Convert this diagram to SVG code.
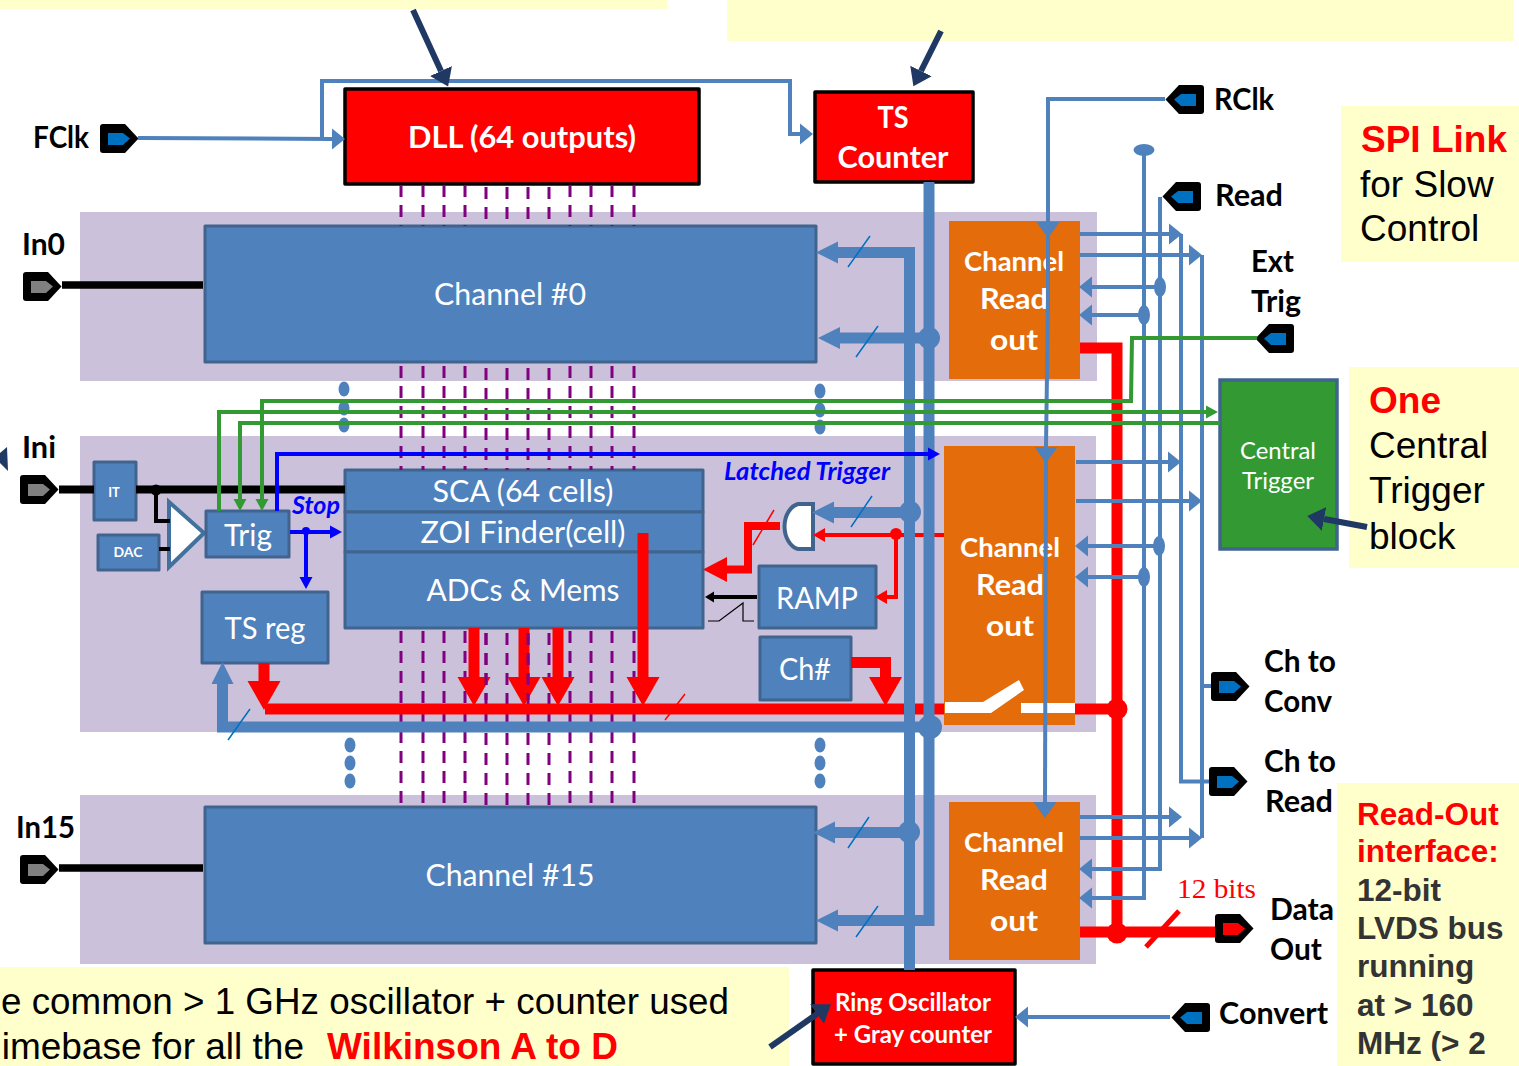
<svg xmlns="http://www.w3.org/2000/svg" width="1519" height="1066" viewBox="0 0 1519 1066">
<style>
text{font-family:"Lato","Carlito","Liberation Sans",sans-serif}
.note{fill:#ffffcc}
.panel{fill:#ccc1da}
.blk{fill:#4f81bd;stroke:#41648f;stroke-width:3;stroke-linejoin:round}
.red{fill:#ff0000;stroke:#000;stroke-width:3.5;stroke-linejoin:round}
.ro{fill:#e46c0a}
.w{fill:#fff;text-anchor:middle}
.b{font-weight:700}
.lb{fill:#000;font-weight:700;font-size:30px}
.ar{font-family:"Liberation Sans",Arial,sans-serif;font-size:37px;fill:#000}
.ar2{font-family:"Liberation Sans",Arial,sans-serif;font-size:31.500px;font-weight:700}
.thin{stroke:#4f81bd;stroke-width:4;fill:none}
.bus{stroke:#4f81bd;stroke-width:11;fill:none}
.rbus{stroke:#ff0000;stroke-width:11;fill:none}
.rw{stroke:#ff0000;stroke-width:4;fill:none}
.gr{stroke:#339933;stroke-width:4;fill:none}
.bl{stroke:#0000ff;stroke-width:4;fill:none}
.bk{stroke:#000;fill:none}
.nv{stroke:#1f3864;stroke-width:6;fill:none}
.sl{stroke:#0070c0;stroke-width:1.5;fill:none}
.slr{stroke:#ff0000;stroke-width:1.5;fill:none}
.clk{stroke:#800080;stroke-width:3;fill:none;stroke-dasharray:12 8}
.dot{fill:#4f81bd}
</style>
<defs>
<g id="tag"><path d="M3 0H25L38.500 14.500L25 29H3Q0 29 0 26V3Q0 0 3 0Z" fill="#000"/><path d="M8 9H23L30 14.500L23 21H8Z"/></g>
<marker id="mT" markerUnits="userSpaceOnUse" viewBox="0 -11 14 22" refX="0" refY="0" markerWidth="14" markerHeight="22" orient="auto"><path d="M0-10.500L13 0L0 10.500Z" fill="#4f81bd"/></marker>
<marker id="mB" markerUnits="userSpaceOnUse" viewBox="0 -12 23 24" refX="0" refY="0" markerWidth="23" markerHeight="24" orient="auto"><path d="M0-11L22 0L0 11Z" fill="#4f81bd"/></marker>
<marker id="mD" markerUnits="userSpaceOnUse" viewBox="0 -12 17 24" refX="0" refY="0" markerWidth="17" markerHeight="24" orient="auto"><path d="M0-11.500L16 0L0 11.500Z" fill="#4f81bd"/></marker>
<marker id="mR" markerUnits="userSpaceOnUse" viewBox="0 -17 30 34" refX="0" refY="0" markerWidth="30" markerHeight="34" orient="auto"><path d="M0-16.500L29 0L0 16.500Z" fill="#ff0000"/></marker>
<marker id="mH" markerUnits="userSpaceOnUse" viewBox="0 -13 25 26" refX="0" refY="0" markerWidth="25" markerHeight="26" orient="auto"><path d="M0-12.500L24 0L0 12.500Z" fill="#ff0000"/></marker>
<marker id="mr" markerUnits="userSpaceOnUse" viewBox="0 -8 13 16" refX="0" refY="0" markerWidth="13" markerHeight="16" orient="auto"><path d="M0-7L12 0L0 7Z" fill="#ff0000"/></marker>
<marker id="mG" markerUnits="userSpaceOnUse" viewBox="0 -8 13 16" refX="0" refY="0" markerWidth="13" markerHeight="16" orient="auto"><path d="M0-6.500L12 0L0 6.500Z" fill="#339933"/></marker>
<marker id="mL" markerUnits="userSpaceOnUse" viewBox="0 -8 13 16" refX="0" refY="0" markerWidth="13" markerHeight="16" orient="auto"><path d="M0-6.500L12 0L0 6.500Z" fill="#0000ff"/></marker>
<marker id="mK" markerUnits="userSpaceOnUse" viewBox="0 -7 10 14" refX="0" refY="0" markerWidth="10" markerHeight="14" orient="auto"><path d="M0-5.500L9 0L0 5.500Z" fill="#000"/></marker>
<marker id="mN" markerUnits="userSpaceOnUse" viewBox="0 -13 18 26" refX="0" refY="0" markerWidth="18" markerHeight="26" orient="auto"><path d="M0-12L17 0L0 12Z" fill="#1f3864"/></marker>
</defs>

<g id="notes">
<rect class="note" x="0" y="0" width="667" height="9"/>
<rect class="note" x="727" y="0" width="787" height="41"/>
<g id="note-spi"><rect class="note" x="1341" y="106" width="178" height="156"/>
<text class="ar" x="1361" y="152" style="fill:#ff0000;font-weight:700" textLength="146" lengthAdjust="spacingAndGlyphs">SPI Link</text>
<text class="ar" x="1360" y="197">for Slow</text>
<text class="ar" x="1360" y="241">Control</text></g>
<g id="note-central"><rect class="note" x="1349" y="367" width="170" height="201"/>
<text class="ar" x="1369" y="413" style="fill:#ff0000;font-weight:700">One</text>
<text class="ar" x="1369" y="458">Central</text>
<text class="ar" x="1369" y="503">Trigger</text>
<text class="ar" x="1369" y="549">block</text></g>
<g id="note-readout"><rect class="note" x="1337" y="783" width="182" height="283"/>
<text class="ar2" x="1357" y="825" fill="#ff0000">Read-Out</text>
<text class="ar2" x="1357" y="862" fill="#ff0000">interface:</text>
<text class="ar2" x="1357" y="901" fill="#333">12-bit</text>
<text class="ar2" x="1357" y="939" fill="#333">LVDS bus</text>
<text class="ar2" x="1357" y="977" fill="#333">running</text>
<text class="ar2" x="1357" y="1016" fill="#333">at &gt; 160</text>
<text class="ar2" x="1357" y="1054" fill="#333">MHz (&gt; 2</text></g>
<g id="note-bottom"><rect class="note" x="0" y="967" width="789" height="99"/>
<text class="ar" x="1" y="1014" textLength="728" lengthAdjust="spacingAndGlyphs">e common &gt; 1 GHz oscillator + counter used</text>
<text class="ar" x="304" y="1059" text-anchor="end">imebase for all the</text>
<text class="ar" x="327" y="1059" style="fill:#ff0000;font-weight:700">Wilkinson A to D</text></g>
</g>

<g id="panels">
<rect class="panel" x="80" y="212" width="1017" height="169"/>
<rect class="panel" x="80" y="436" width="1016" height="296"/>
<rect class="panel" x="80" y="795" width="1016" height="169"/>
</g>

<g id="dll"><rect class="red" x="345" y="89" width="354" height="95"/><text class="w b" x="522" y="148" font-size="30" textLength="228" lengthAdjust="spacingAndGlyphs">DLL (64 outputs)</text></g>
<g id="ts-counter"><rect class="red" x="815" y="92" width="158" height="90"/><text class="w b" x="893" y="128" font-size="30" textLength="31" lengthAdjust="spacingAndGlyphs">TS</text><text class="w b" x="893" y="168" font-size="30" textLength="111" lengthAdjust="spacingAndGlyphs">Counter</text></g>
<g id="channel-0"><rect class="blk" x="205" y="226" width="611" height="136"/><text class="w" x="510" y="305" font-size="30" textLength="152" lengthAdjust="spacingAndGlyphs">Channel #0</text></g>
<g id="channel-15"><rect class="blk" x="205" y="807" width="611" height="136"/><text class="w" x="510" y="886" font-size="30" textLength="169" lengthAdjust="spacingAndGlyphs">Channel #15</text></g>
<g id="readout-0"><rect class="ro" x="949" y="221" width="131" height="158"/><text class="w b" x="1014" y="271" font-size="27" textLength="100" lengthAdjust="spacingAndGlyphs">Channel</text><text class="w b" x="1014" y="309" font-size="29" textLength="68" lengthAdjust="spacingAndGlyphs">Read</text><text class="w b" x="1014" y="350" font-size="29" textLength="48" lengthAdjust="spacingAndGlyphs">out</text></g>
<g id="readout-i"><rect class="ro" x="944" y="446" width="131" height="279"/><text class="w b" x="1010" y="557" font-size="27" textLength="100" lengthAdjust="spacingAndGlyphs">Channel</text><text class="w b" x="1010" y="595" font-size="29" textLength="68" lengthAdjust="spacingAndGlyphs">Read</text><text class="w b" x="1010" y="636" font-size="29" textLength="48" lengthAdjust="spacingAndGlyphs">out</text>
<path d="M945 702H983V713H945ZM1021 703H1075V713H1021ZM983 702L1019 680L1024 690L991 713H983Z" fill="#fff"/></g>
<g id="readout-15"><rect class="ro" x="949" y="802" width="131" height="158"/><text class="w b" x="1014" y="852" font-size="27" textLength="100" lengthAdjust="spacingAndGlyphs">Channel</text><text class="w b" x="1014" y="890" font-size="29" textLength="68" lengthAdjust="spacingAndGlyphs">Read</text><text class="w b" x="1014" y="931" font-size="29" textLength="48" lengthAdjust="spacingAndGlyphs">out</text></g>
<g id="central-trigger"><rect x="1220" y="380" width="117" height="169" fill="#339933" stroke="#41648f" stroke-width="3.500"/><text class="w" x="1278" y="459" font-size="24" textLength="76" lengthAdjust="spacingAndGlyphs">Central</text><text class="w" x="1278" y="489" font-size="24" textLength="72" lengthAdjust="spacingAndGlyphs">Trigger</text></g>
<g id="ring-osc"><rect class="red" x="813" y="970" width="202" height="94"/><text class="w b" x="913" y="1011" font-size="24" textLength="156" lengthAdjust="spacingAndGlyphs">Ring Oscillator</text><text class="w b" x="913" y="1043" font-size="24" textLength="158" lengthAdjust="spacingAndGlyphs">+ Gray counter</text></g>
<g id="sca"><rect class="blk" x="345" y="470" width="358" height="42"/><text class="w" x="523" y="502" font-size="30" textLength="181" lengthAdjust="spacingAndGlyphs">SCA (64 cells)</text></g>
<g id="zoi"><rect class="blk" x="345" y="512" width="358" height="40"/><text class="w" x="523" y="543" font-size="30" textLength="205" lengthAdjust="spacingAndGlyphs">ZOI Finder(cell)</text></g>
<g id="adcs"><rect class="blk" x="345" y="552" width="358" height="76"/><text class="w" x="523" y="601" font-size="30" textLength="193" lengthAdjust="spacingAndGlyphs">ADCs &amp; Mems</text></g>
<g id="it"><rect class="blk" x="94" y="462" width="42" height="58"/><text class="w b" x="114" y="497" font-size="13">IT</text></g>
<g id="dac"><rect class="blk" x="98" y="535" width="61" height="35"/><text class="w b" x="128" y="557" font-size="14">DAC</text></g>
<g id="comparator"><path d="M169 502L204 533L169 567Z" fill="#fff" stroke="#41719c" stroke-width="4"/></g>
<g id="trig"><rect class="blk" x="206" y="511" width="83" height="46"/><text class="w" x="248" y="546" font-size="30" textLength="48" lengthAdjust="spacingAndGlyphs">Trig</text></g>
<g id="ts-reg"><rect class="blk" x="202" y="592" width="126" height="71"/><text class="w" x="265" y="639" font-size="30" textLength="81" lengthAdjust="spacingAndGlyphs">TS reg</text></g>
<g id="ramp"><rect class="blk" x="759" y="566" width="117" height="62"/><text class="w" x="817" y="609" font-size="30" textLength="82" lengthAdjust="spacingAndGlyphs">RAMP</text></g>
<g id="ch-num"><rect class="blk" x="760" y="637" width="91" height="63"/><text class="w" x="805" y="680" font-size="30" textLength="52" lengthAdjust="spacingAndGlyphs">Ch#</text></g>
<g id="and-gate"><path d="M813 504H798A17 23 0 0 0 798 549H813Z" fill="#fff" stroke="#41648f" stroke-width="4"/></g>

<g id="port-fclk"><use href="#tag" transform="translate(100 124)" fill="#0070c0"/><text class="lb" x="33" y="148" textLength="56" lengthAdjust="spacingAndGlyphs">FClk</text></g>
<g id="port-in0"><use href="#tag" transform="translate(23 272)" fill="#808080"/><text class="lb" x="22" y="255" textLength="43" lengthAdjust="spacingAndGlyphs">In0</text></g>
<g id="port-ini"><use href="#tag" transform="translate(20 475)" fill="#808080"/><text class="lb" x="22" y="458" textLength="34" lengthAdjust="spacingAndGlyphs">Ini</text></g>
<g id="port-in15"><use href="#tag" transform="translate(20 855)" fill="#808080"/><text class="lb" x="16" y="838" textLength="59" lengthAdjust="spacingAndGlyphs">In15</text></g>
<g id="port-rclk"><use href="#tag" transform="translate(1204 85) scale(-1 1)" fill="#0070c0"/><text class="lb" x="1214" y="110" textLength="60" lengthAdjust="spacingAndGlyphs">RClk</text></g>
<g id="port-read"><use href="#tag" transform="translate(1201 182) scale(-1 1)" fill="#0070c0"/><text class="lb" x="1215" y="206" textLength="68" lengthAdjust="spacingAndGlyphs">Read</text></g>
<g id="port-exttrig"><use href="#tag" transform="translate(1294 324) scale(-1 1)" fill="#0070c0"/><text class="lb" x="1251" y="272" textLength="43" lengthAdjust="spacingAndGlyphs">Ext</text><text class="lb" x="1251" y="312" textLength="50" lengthAdjust="spacingAndGlyphs">Trig</text></g>
<g id="port-chconv"><use href="#tag" transform="translate(1211 672)" fill="#0070c0"/><text class="lb" x="1264" y="672" textLength="72" lengthAdjust="spacingAndGlyphs">Ch to</text><text class="lb" x="1264" y="712" textLength="68" lengthAdjust="spacingAndGlyphs">Conv</text></g>
<g id="port-chread"><use href="#tag" transform="translate(1209 767)" fill="#0070c0"/><text class="lb" x="1264" y="772" textLength="72" lengthAdjust="spacingAndGlyphs">Ch to</text><text class="lb" x="1265" y="812" textLength="68" lengthAdjust="spacingAndGlyphs">Read</text></g>
<g id="port-data"><use href="#tag" transform="translate(1215 914)" fill="#ff0000"/><text class="lb" x="1270" y="920" textLength="64" lengthAdjust="spacingAndGlyphs">Data</text><text class="lb" x="1270" y="960" textLength="52" lengthAdjust="spacingAndGlyphs">Out</text></g>
<g id="port-convert"><use href="#tag" transform="translate(1210 1003) scale(-1 1)" fill="#0070c0"/><text class="lb" x="1219" y="1024" textLength="109" lengthAdjust="spacingAndGlyphs">Convert</text></g>

<g id="connectors">
<path class="clk" d="M401 185V226M423 185V226M444 185V226M465 185V226M486 187V226M507 187V226M528 187V226M549 187V226M570 185V226M591 185V226M612 185V226M634 185V226M401 366V470M423 366V470M444 366V470M465 366V470M486 368V470M507 368V470M528 368V470M549 368V470M570 366V470M591 366V470M612 366V470M634 366V470M401 631V805M423 631V805M444 631V805M465 631V805M486 633V805M507 633V805M528 633V805M549 633V805M570 631V805M591 631V805M612 631V805M634 631V805"/>

<path class="rbus" d="M474 628V677" marker-end="url(#mR)"/>
<path class="rbus" d="M524 628V677" marker-end="url(#mR)"/>
<path class="rbus" d="M558 628V677" marker-end="url(#mR)"/>
<path class="rbus" d="M643 533V677" marker-end="url(#mR)"/>
<path class="clk" d="M486 633V700M528 633V700"/>
<path class="rbus" d="M264 663V681" marker-end="url(#mR)"/>
<path class="rbus" d="M851 662.500H885.500V677" marker-end="url(#mR)"/>
<path class="rbus" d="M265 709H944M1075 709H1117"/>
<path class="rbus" d="M1080 348H1117V932M1080 932H1215"/>
<circle cx="1117" cy="709" r="10.500" fill="#ff0000"/>
<circle cx="1117" cy="933" r="10.500" fill="#ff0000"/>
<path d="M1146 947L1179 911" stroke="#ff0000" stroke-width="5" fill="none"/>
<path class="rbus" d="M780 526H748V569.500H727" marker-end="url(#mH)" style="stroke-width:8"/>
<path class="slr" d="M753 545L774 510M665 720L685 694"/>
<path class="rw" d="M944 535H896V597H887" marker-end="url(#mr)"/>
<path class="rw" d="M896 535H825" marker-end="url(#mr)"/>
<circle cx="896" cy="534" r="6" fill="#ff0000"/>

<path class="bk" d="M59 489.500H94M136 489.500H345" style="stroke-width:8"/>
<path class="bk" style="stroke-width:7.500" d="M62 285H203M59 868H203"/>
<circle cx="156" cy="490" r="5.500" fill="#000"/>
<path class="bk" style="stroke-width:4" d="M156 490V521H170M159 549H170"/>
<path class="bk" style="stroke-width:4" d="M757 597H714" marker-end="url(#mK)"/>
<path class="bk" style="stroke-width:1.200" d="M708 621H719L743 603V621H754"/>

<path class="bus" d="M909.500 970V252.500H838" marker-end="url(#mB)"/>
<path class="bus" d="M929 182V920.500H838" marker-end="url(#mB)"/>
<path class="bus" d="M929 338H840" marker-end="url(#mB)"/>
<path class="bus" d="M909 512.500H834" marker-end="url(#mB)"/>
<path class="bus" d="M909 832.500H835" marker-end="url(#mB)"/>
<path class="bus" d="M930 727H222.500V684" marker-end="url(#mB)"/>
<circle class="dot" cx="929" cy="338" r="11"/>
<circle class="dot" cx="910" cy="512" r="11"/>
<circle class="dot" cx="909" cy="832" r="11"/>
<circle class="dot" cx="930" cy="727" r="12"/>
<path class="sl" d="M848 267L870 236M856 357L878 326M851 527L872 496M848 848L869 817M856 937L878 906M228 740L250 709"/>

<path class="thin" d="M138 138L332 139" marker-end="url(#mT)"/>
<path class="thin" d="M322 139V81H790V134H800" marker-end="url(#mT)"/>
<path class="thin" d="M1165 99H1048V222" marker-end="url(#mD)"/>
<path class="thin" d="M1048 222V300L1046 447" marker-end="url(#mD)"/>
<path class="thin" d="M1046 447L1045 802" marker-end="url(#mD)"/>
<path class="thin" d="M1144 150V898H1092" marker-end="url(#mT)"/>
<path class="thin" d="M1160 197V869H1092" marker-end="url(#mT)"/>
<path class="thin" d="M1160 287H1092" marker-end="url(#mT)"/>
<path class="thin" d="M1144 315H1092" marker-end="url(#mT)"/>
<path class="thin" d="M1159 546H1088" marker-end="url(#mT)"/>
<path class="thin" d="M1144 577H1088" marker-end="url(#mT)"/>
<path class="thin" d="M1080 234H1169" marker-end="url(#mT)"/>
<path class="thin" d="M1080 255H1189" marker-end="url(#mT)"/>
<path class="thin" d="M1076 462H1168" marker-end="url(#mT)"/>
<path class="thin" d="M1076 501H1189" marker-end="url(#mT)"/>
<path class="thin" d="M1080 817H1169" marker-end="url(#mT)"/>
<path class="thin" d="M1080 838H1189" marker-end="url(#mT)"/>
<path class="thin" d="M1181 234V781.500H1209"/>
<path class="thin" d="M1202 255V838M1202 686H1211"/>
<path class="thin" d="M1170 1017H1028" marker-end="url(#mT)"/>
<ellipse class="dot" cx="1144" cy="150" rx="10.500" ry="6"/>
<ellipse class="dot" cx="1160" cy="287" rx="6" ry="10"/>
<ellipse class="dot" cx="1144" cy="315" rx="6" ry="10"/>
<ellipse class="dot" cx="1159" cy="546" rx="6" ry="10"/>
<ellipse class="dot" cx="1144" cy="577" rx="6" ry="10"/>
<g class="dot"><ellipse cx="344" cy="389" rx="5.500" ry="7.500"/><ellipse cx="344" cy="408" rx="5.500" ry="7.500"/><ellipse cx="344" cy="425" rx="5.500" ry="7.500"/><ellipse cx="820" cy="391" rx="5.500" ry="7.500"/><ellipse cx="820" cy="410" rx="5.500" ry="7.500"/><ellipse cx="820" cy="427" rx="5.500" ry="7.500"/><ellipse cx="350" cy="745" rx="5.500" ry="7.500"/><ellipse cx="350" cy="763" rx="5.500" ry="7.500"/><ellipse cx="350" cy="781" rx="5.500" ry="7.500"/><ellipse cx="820" cy="745" rx="5.500" ry="7.500"/><ellipse cx="820" cy="763" rx="5.500" ry="7.500"/><ellipse cx="820" cy="781" rx="5.500" ry="7.500"/></g>

<path class="gr" d="M262 499V401H1131L1132 338H1257" />
<path class="gr" d="M262 401V499" marker-end="url(#mG)"/>
<path class="gr" d="M219 511V412H1206" marker-end="url(#mG)"/>
<path class="gr" d="M1220 423H240V499" marker-end="url(#mG)"/>
<path class="bl" d="M277 511V454H928" marker-end="url(#mL)"/>
<path class="bl" d="M290 532H330" marker-end="url(#mL)"/>
<path class="bl" d="M306 532V577" marker-end="url(#mL)"/>
<circle cx="306" cy="531" r="4" fill="#0000ff"/>

<path class="nv" d="M413 10L441 71" marker-end="url(#mN)"/>
<path class="nv" d="M941 31L921 71" marker-end="url(#mN)"/>
<path class="nv" d="M770 1047L817 1014" marker-end="url(#mN)"/>
<path class="nv" d="M1367 527L1324 519" marker-end="url(#mN)"/>
<path d="M0 453L7 447L8 471L0 463Z" fill="#1f3864"/>
</g>

<g id="labels">
<text x="724" y="480" fill="#0000ff" font-size="24" font-weight="700" font-style="italic" textLength="166" lengthAdjust="spacingAndGlyphs">Latched Trigger</text>
<text x="292" y="514" fill="#0000ff" font-size="24" font-weight="700" font-style="italic" textLength="48" lengthAdjust="spacingAndGlyphs">Stop</text>
<text x="1177" y="898" fill="#ff0000" font-size="27" style="font-family:'Liberation Serif',serif" textLength="79" lengthAdjust="spacingAndGlyphs">12 bits</text>
</g>
</svg>
